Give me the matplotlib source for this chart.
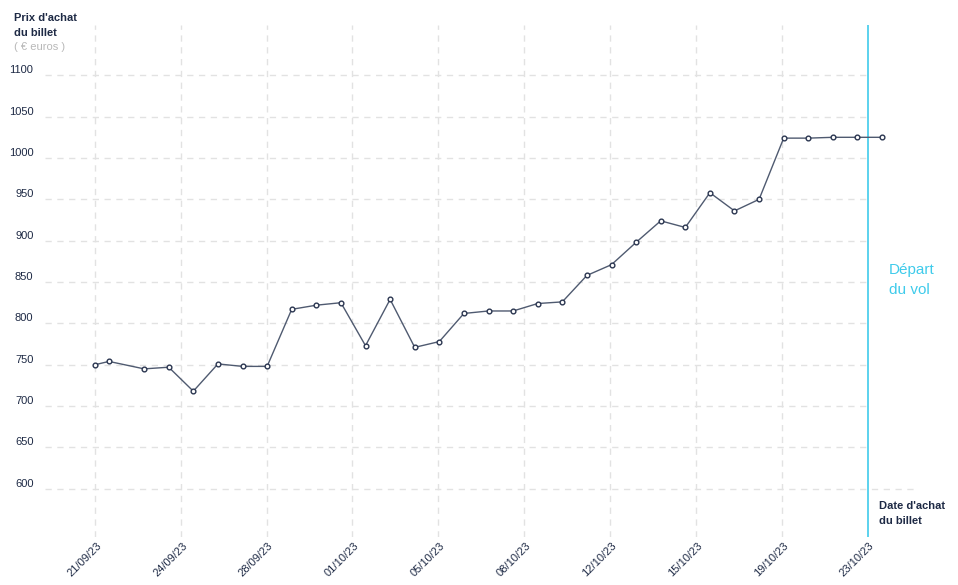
import matplotlib
matplotlib.use("Agg")
import matplotlib.pyplot as plt

plt.rcParams['font.family'] = ['Liberation Sans', 'DejaVu Sans']

# Data (x = days after the first purchase point)
days = [0, 0.57, 2, 3, 4, 5, 6, 7, 8, 9, 10, 11, 12, 13, 14, 15, 16,
        17, 18, 19, 20, 21, 22, 23, 24, 25, 26, 27, 28, 29, 30, 31, 32]
prices = [750, 754, 745, 747, 718, 751, 748, 748, 817, 822, 825, 773, 829,
          771, 778, 812, 815, 815, 824, 826, 858, 871, 898, 924, 916, 958,
          936, 950, 1024, 1024, 1025, 1025, 1025]
tick_days = [0, 3.49, 6.98, 10.47, 13.96, 17.45, 20.94, 24.43, 27.92, 31.41]
tick_labels = ["21/09/23", "24/09/23", "28/09/23", "01/10/23", "05/10/23",
               "08/10/23", "12/10/23", "15/10/23", "19/10/23", "23/10/23"]
y_ticks = [600, 650, 700, 750, 800, 850, 900, 950, 1000, 1050, 1100]

navy = "#1e2a45"
cyan = "#3fcbeb"
grid_c = "#e2e2e2"

W, H = 958, 585
fig = plt.figure(figsize=(W / 100, H / 100), dpi=100)
ax = fig.add_axes([45 / W, 1 - 537 / H, (918 - 45) / W, (537 - 25) / H])
x0, x1 = -2.03, 33.46
ax.set_xlim(x0, x1)
ax.set_ylim(541.7, 1160.8)
for s in ax.spines.values():
    s.set_visible(False)
ax.set_xticks([])
ax.set_yticks([])

depart = tick_days[-1]
dash = (0, (4.5, 4))
for t in tick_days[:-1]:
    ax.axvline(t, color=grid_c, lw=1, linestyle=dash, zorder=1)
for v in y_ticks:
    xe = x1 - 0.1 if v == 600 else depart
    ax.hlines(v, x0, xe, color=grid_c, lw=1, linestyles=dash, zorder=1)
    ax.text(-2.5, v + 6, str(v), ha='right', va='center', fontsize=8,
            color=navy, clip_on=False)

ax.axvline(depart, color=cyan, lw=1.2, zorder=2)

ax.plot(days, prices, color="#4f5a70", lw=1, marker='o', markersize=3.4,
        markerfacecolor='white', markeredgecolor="#2a3550", markeredgewidth=1,
        zorder=3, clip_on=False)

for t, lab in zip(tick_days, tick_labels):
    ax.text(t + 0.05, 537, lab, rotation=45, ha='right', va='top',
            rotation_mode='anchor', fontsize=8, color=navy, clip_on=False)

fig.text(14 / W, 1 - 18 / H, "Prix d'achat", fontsize=8, fontweight='bold',
         color=navy, va='center')
fig.text(14 / W, 1 - 33 / H, "du billet", fontsize=8, fontweight='bold',
         color=navy, va='center')
fig.text(14 / W, 1 - 47 / H, "( € euros )", fontsize=8, color="#b8b8b8",
         va='center')

fig.text(889 / W, 1 - 270 / H, "Départ", fontsize=11, color=cyan, va='center')
fig.text(889 / W, 1 - 290 / H, "du vol", fontsize=11, color=cyan, va='center')

fig.text(879 / W, 1 - 506 / H, "Date d'achat", fontsize=8, fontweight='bold',
         color=navy, va='center')
fig.text(879 / W, 1 - 521 / H, "du billet", fontsize=8, fontweight='bold',
         color=navy, va='center')

fig.savefig("out.png", dpi=100)
